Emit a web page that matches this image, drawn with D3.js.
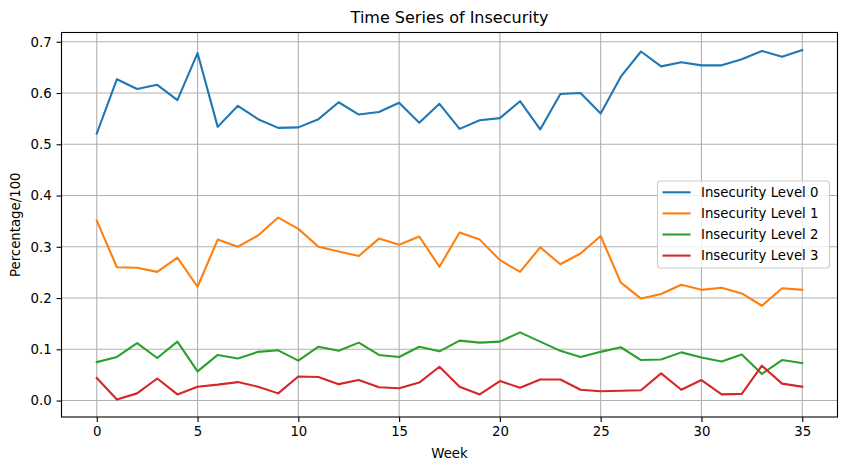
<!DOCTYPE html>
<html><head><meta charset="utf-8">
<script src="https://cdn.jsdelivr.net/npm/d3@7"></script>
<style>body{margin:0;background:#fff}svg{font-family:"DejaVu Sans",sans-serif}</style>
</head><body><svg id="c" width="846" height="470"></svg>
<script>
const weeks = d3.range(0, 36);
const level0 = [0.521,0.627,0.608,0.616,0.586,0.678,0.534,0.575,0.549,0.532,0.533,0.549,0.582,0.558,0.563,0.581,0.542,0.579,0.530,0.547,0.551,0.584,0.529,0.598,0.600,0.560,0.632,0.681,0.652,0.660,0.654,0.654,0.666,0.682,0.671,0.684];
const level1 = [0.351,0.260,0.259,0.251,0.279,0.222,0.314,0.300,0.322,0.357,0.335,0.300,0.291,0.282,0.316,0.304,0.320,0.261,0.328,0.314,0.274,0.251,0.299,0.266,0.287,0.321,0.230,0.199,0.208,0.226,0.216,0.220,0.209,0.185,0.219,0.216];
const level2 = [0.075,0.085,0.112,0.083,0.115,0.057,0.089,0.082,0.095,0.098,0.078,0.105,0.097,0.113,0.089,0.085,0.105,0.096,0.117,0.113,0.115,0.133,0.115,0.097,0.085,0.095,0.104,0.079,0.080,0.094,0.084,0.076,0.090,0.052,0.079,0.073];
const level3 = [0.044,0.002,0.014,0.043,0.012,0.027,0.031,0.036,0.027,0.014,0.047,0.046,0.032,0.040,0.026,0.024,0.035,0.066,0.027,0.012,0.038,0.025,0.041,0.041,0.021,0.018,0.019,0.020,0.053,0.021,0.040,0.012,0.013,0.068,0.033,0.027];
const seriesNames = ["Insecurity Level 0","Insecurity Level 1","Insecurity Level 2","Insecurity Level 3"];
const colors = ["#1f77b4","#ff7f0e","#2ca02c","#d62728"];
const xTicks = [0,5,10,15,20,25,30,35];
const yTicks = [0.0,0.1,0.2,0.3,0.4,0.5,0.6,0.7];

const all = [level0, level1, level2, level3];
const svg = d3.select("#c");
const L = 61.5, R = 837.5, T = 32.5, B = 417;
const x = d3.scaleLinear().domain([-1.75, 36.75]).range([L, R]);
const ymin = d3.min(all.flat()), ymax = d3.max(all.flat());
const pad = (ymax - ymin) * 0.05;
const y = d3.scaleLinear().domain([ymin - pad, ymax + pad]).range([B, T]);

// grid
const g = svg.append("g");
g.selectAll(".gx").data(xTicks).enter().append("line")
  .attr("x1", d => x(d)).attr("x2", d => x(d)).attr("y1", T).attr("y2", B)
  .attr("stroke", "#b0b0b0").attr("stroke-width", 1.1);
g.selectAll(".gy").data(yTicks).enter().append("line")
  .attr("y1", d => y(d)).attr("y2", d => y(d)).attr("x1", L).attr("x2", R)
  .attr("stroke", "#b0b0b0").attr("stroke-width", 1.1);

// lines
const line = d3.line().x((d, i) => x(weeks[i])).y(d => y(d));
all.forEach((s, k) => {
  svg.append("path").datum(s).attr("d", line).attr("fill", "none")
    .attr("stroke", colors[k]).attr("stroke-width", 2.1)
    .attr("stroke-linejoin", "round").attr("stroke-linecap", "square");
});

// axes
const xAxis = d3.axisBottom(x).tickValues(xTicks).tickSize(4.9).tickPadding(4.9).tickFormat(d3.format("d"));
const yAxis = d3.axisLeft(y).tickValues(yTicks).tickSize(4.9).tickPadding(4.9).tickFormat(d3.format(".1f"));
const gx = svg.append("g").attr("transform", `translate(0,${B})`).call(xAxis);
const gy = svg.append("g").attr("transform", `translate(${L},0)`).call(yAxis);
[gx, gy].forEach(a => {
  a.select(".domain").remove();
  a.selectAll("line").attr("stroke", "#000").attr("stroke-width", 1.1);
  a.selectAll("text").attr("font-size", 13.3).attr("fill", "#000").attr("font-family", "DejaVu Sans");
});

// spines
svg.append("rect").attr("x", L).attr("y", T).attr("width", R - L).attr("height", B - T)
  .attr("fill", "none").attr("stroke", "#000").attr("stroke-width", 1.1);

// labels
svg.append("text").attr("x", (L + R) / 2).attr("y", 23).attr("text-anchor", "middle")
  .attr("font-size", 16).text("Time Series of Insecurity");
svg.append("text").attr("x", (L + R) / 2).attr("y", 458).attr("text-anchor", "middle")
  .attr("font-size", 13.3).text("Week");
svg.append("text").attr("transform", `translate(20,${(T + B) / 2}) rotate(-90)`).attr("text-anchor", "middle")
  .attr("font-size", 13.3).text("Percentage/100");

// legend
const lg = svg.append("g");
lg.append("rect").attr("x", 657.5).attr("y", 181).attr("width", 172).attr("height", 87)
  .attr("rx", 3).attr("fill", "rgba(255,255,255,0.8)").attr("stroke", "#cccccc").attr("stroke-width", 1.1);
seriesNames.forEach((n, k) => {
  const yy = 192.3 + k * 21.1;
  lg.append("line").attr("x1", 662.5).attr("x2", 690.5).attr("y1", yy).attr("y2", yy)
    .attr("stroke", colors[k]).attr("stroke-width", 2.1);
  lg.append("text").attr("x", 701).attr("y", yy + 4.8).attr("font-size", 13.3).text(n);
});
</script></body></html>
